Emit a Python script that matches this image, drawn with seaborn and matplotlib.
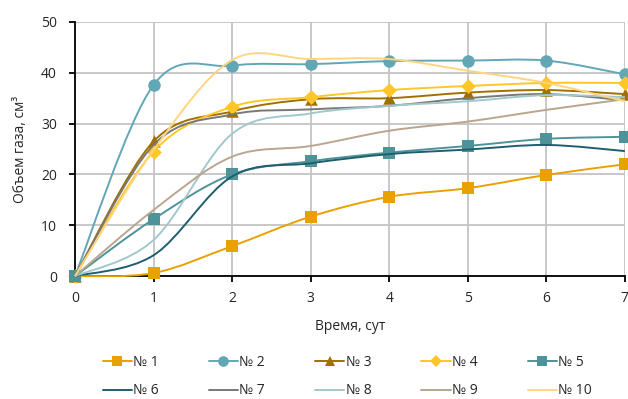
import numpy as np
import pandas as pd
import matplotlib
matplotlib.use("Agg")
import matplotlib.pyplot as plt
from matplotlib.path import Path
from matplotlib.patches import PathPatch
from matplotlib.lines import Line2D
import seaborn as sns

sns.set_style("white")
plt.rcParams['font.family'] = ['Open Sans', 'DejaVu Sans']

# data
days = [0, 1, 2, 3, 4, 5, 6, 7]
s1 = [0, 0.6, 5.9, 11.7, 15.6, 17.3, 19.9, 22.0]
s2 = [0, 37.6, 41.4, 41.7, 42.3, 42.4, 42.4, 39.7]
s3 = [0, 26.5, 32.4, 34.8, 35.0, 36.1, 36.6, 35.8]
s4 = [0, 24.5, 33.3, 35.2, 36.6, 37.4, 38.0, 38.0]
s5 = [0, 11.2, 20.0, 22.6, 24.3, 25.6, 27.0, 27.4]
s6 = [0, 4.1, 19.6, 22.2, 24.0, 24.9, 25.8, 24.6]
s7 = [0, 25.8, 31.8, 32.8, 33.5, 35.0, 35.8, 34.6]
s8 = [0, 7.1, 28.0, 32.0, 33.5, 34.4, 35.6, 35.2]
s9 = [0, 13.0, 23.5, 25.6, 28.6, 30.4, 32.7, 34.8]
s10 = [0, 24.8, 42.5, 42.7, 42.7, 40.4, 38.0, 34.4]

labels = ["№ 1", "№ 2", "№ 3", "№ 4", "№ 5", "№ 6", "№ 7", "№ 8", "№ 9", "№ 10"]
series = [s1, s2, s3, s4, s5, s6, s7, s8, s9, s10]
colors = ["#E9A100", "#62A7B5", "#A07000", "#FFC629", "#4E9399",
          "#1E5F6F", "#787878", "#A1C8CD", "#BBA58F", "#FFD580"]
markers = ["s", "o", "^", "D", "s", None, None, None, None, None]
msizes = [9, 9, 9, 7.5, 9, 0, 0, 0, 0, 0]


def smooth_path(x, y):
    # Excel-like smoothed line as cubic Bezier segments
    p = np.column_stack([x, y]).astype(float)
    n = len(p)
    verts = [p[0]]
    codes = [Path.MOVETO]
    for i in range(n - 1):
        p0 = p[i - 1] if i > 0 else p[i]
        p3 = p[i + 2] if i + 2 < n else p[i + 1]
        c1 = p[i] + (p[i + 1] - p0) / 6
        c2 = p[i + 1] - (p3 - p[i]) / 6
        verts += [c1, c2, p[i + 1]]
        codes += [Path.CURVE4] * 3
    return Path(verts, codes)


fig = plt.figure(figsize=(6.28, 3.99), dpi=100)
ax = fig.add_axes([0.1194, 0.308, 0.8756, 0.637])

handles = []
for i, (ys, lab) in enumerate(zip(series, labels)):
    ax.add_patch(PathPatch(smooth_path(days, ys), facecolor="none",
                           edgecolor=colors[i], lw=1.4, zorder=3 + i,
                           clip_on=False))
    if markers[i]:
        df = pd.DataFrame({"x": days, "y": ys})
        sns.scatterplot(data=df, x="x", y="y", ax=ax, marker=markers[i],
                        s=msizes[i] ** 2, color=colors[i], edgecolor=colors[i],
                        linewidth=0, zorder=3 + i, legend=False, clip_on=False)
    handles.append(Line2D([], [], color=colors[i], lw=1.4, marker=markers[i],
                          markeredgewidth=0,
                          markersize=(msizes[i] * 0.85) if markers[i] else 0))

ax.set_xlim(0, 7)
ax.set_ylim(0, 50)
ax.set_xticks(range(0, 8))
ax.set_yticks(range(0, 51, 10))
ax.grid(True, color="#C4C4C4", lw=1.3)
ax.set_axisbelow(True)
for side in ["top", "right"]:
    ax.spines[side].set_visible(False)
for side in ["left", "bottom"]:
    ax.spines[side].set_color("black")
    ax.spines[side].set_linewidth(1.3)
    ax.spines[side].set_zorder(2)
ax.tick_params(axis="both", which="both", direction="out", length=4,
               width=1.3, color="black", labelsize=10, labelcolor="#262626",
               bottom=True, left=True)
ax.tick_params(axis="y", pad=9)
ax.tick_params(axis="x", pad=7)
ax.set_xlabel("Время, сут", fontsize=10, color="#262626", labelpad=9)
ax.set_ylabel("Объем газа, см³", fontsize=10, color="#262626", labelpad=9)

order = [0, 5, 1, 6, 2, 7, 3, 8, 4, 9]
fig.legend([handles[k] for k in order], [labels[k] for k in order],
           ncol=5, loc="lower center", bbox_to_anchor=(0.553, -0.03),
           frameon=False, fontsize=10, handlelength=2.1, handletextpad=0.1,
           columnspacing=3.6, labelspacing=0.95)

fig.savefig("out.png", dpi=100)
